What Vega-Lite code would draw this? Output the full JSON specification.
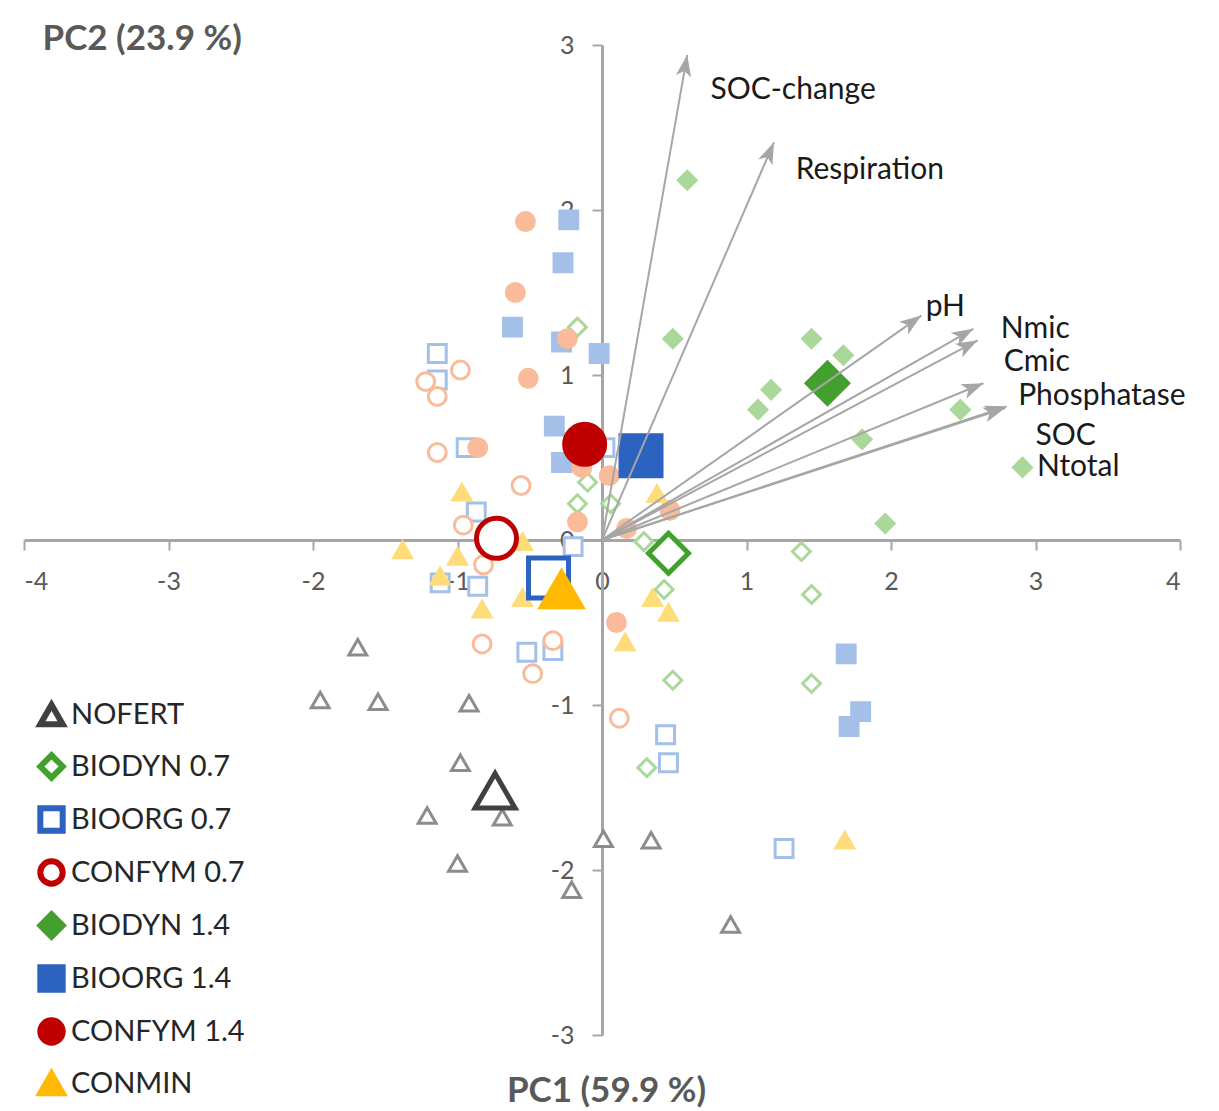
{
  "$schema": "https://vega.github.io/schema/vega-lite/v6.json",
  "width": 1156,
  "height": 990,
  "autosize": {"type": "none"},
  "padding": {"left": 24, "top": 45, "right": 39, "bottom": 76},
  "background": "white",
  "config": {
    "view": {"stroke": null},
    "font": "Lato"
  },
  "datasets": {
    "pts": [
      {"pc1": -1.69, "pc2": -0.65, "group": "NOFERT"},
      {"pc1": -1.95, "pc2": -0.97, "group": "NOFERT"},
      {"pc1": -1.55, "pc2": -0.98, "group": "NOFERT"},
      {"pc1": -0.92, "pc2": -0.99, "group": "NOFERT"},
      {"pc1": -0.98, "pc2": -1.35, "group": "NOFERT"},
      {"pc1": -1.21, "pc2": -1.67, "group": "NOFERT"},
      {"pc1": -0.69, "pc2": -1.68, "group": "NOFERT"},
      {"pc1": -1.00, "pc2": -1.96, "group": "NOFERT"},
      {"pc1": 0.01, "pc2": -1.81, "group": "NOFERT"},
      {"pc1": 0.34, "pc2": -1.82, "group": "NOFERT"},
      {"pc1": -0.21, "pc2": -2.12, "group": "NOFERT"},
      {"pc1": 0.89, "pc2": -2.33, "group": "NOFERT"},
      {"pc1": -0.17, "pc2": 1.29, "group": "BIODYN 0.7"},
      {"pc1": -0.10, "pc2": 0.35, "group": "BIODYN 0.7"},
      {"pc1": -0.17, "pc2": 0.22, "group": "BIODYN 0.7"},
      {"pc1": 0.06, "pc2": 0.22, "group": "BIODYN 0.7"},
      {"pc1": 0.29, "pc2": -0.01, "group": "BIODYN 0.7"},
      {"pc1": 0.43, "pc2": -0.30, "group": "BIODYN 0.7"},
      {"pc1": 1.38, "pc2": -0.07, "group": "BIODYN 0.7"},
      {"pc1": 1.45, "pc2": -0.33, "group": "BIODYN 0.7"},
      {"pc1": 0.49, "pc2": -0.85, "group": "BIODYN 0.7"},
      {"pc1": 1.45, "pc2": -0.87, "group": "BIODYN 0.7"},
      {"pc1": 0.31, "pc2": -1.38, "group": "BIODYN 0.7"},
      {"pc1": -1.14, "pc2": 1.13, "group": "BIOORG 0.7"},
      {"pc1": -1.14, "pc2": 0.97, "group": "BIOORG 0.7"},
      {"pc1": -0.94, "pc2": 0.56, "group": "BIOORG 0.7"},
      {"pc1": 0.02, "pc2": 0.56, "group": "BIOORG 0.7"},
      {"pc1": -0.87, "pc2": 0.17, "group": "BIOORG 0.7"},
      {"pc1": -0.20, "pc2": -0.04, "group": "BIOORG 0.7"},
      {"pc1": -1.12, "pc2": -0.26, "group": "BIOORG 0.7"},
      {"pc1": -0.86, "pc2": -0.28, "group": "BIOORG 0.7"},
      {"pc1": -0.52, "pc2": -0.68, "group": "BIOORG 0.7"},
      {"pc1": -0.34, "pc2": -0.67, "group": "BIOORG 0.7"},
      {"pc1": 0.44, "pc2": -1.18, "group": "BIOORG 0.7"},
      {"pc1": 0.46, "pc2": -1.35, "group": "BIOORG 0.7"},
      {"pc1": 1.26, "pc2": -1.87, "group": "BIOORG 0.7"},
      {"pc1": -0.98, "pc2": 1.03, "group": "CONFYM 0.7"},
      {"pc1": -1.22, "pc2": 0.96, "group": "CONFYM 0.7"},
      {"pc1": -1.14, "pc2": 0.87, "group": "CONFYM 0.7"},
      {"pc1": -1.14, "pc2": 0.53, "group": "CONFYM 0.7"},
      {"pc1": -0.56, "pc2": 0.33, "group": "CONFYM 0.7"},
      {"pc1": -0.96, "pc2": 0.09, "group": "CONFYM 0.7"},
      {"pc1": -0.82, "pc2": -0.15, "group": "CONFYM 0.7"},
      {"pc1": -0.83, "pc2": -0.63, "group": "CONFYM 0.7"},
      {"pc1": -0.34, "pc2": -0.61, "group": "CONFYM 0.7"},
      {"pc1": -0.48, "pc2": -0.81, "group": "CONFYM 0.7"},
      {"pc1": 0.12, "pc2": -1.08, "group": "CONFYM 0.7"},
      {"pc1": 0.59, "pc2": 2.18, "group": "BIODYN 1.4"},
      {"pc1": 0.49, "pc2": 1.22, "group": "BIODYN 1.4"},
      {"pc1": 1.45, "pc2": 1.22, "group": "BIODYN 1.4"},
      {"pc1": 1.67, "pc2": 1.12, "group": "BIODYN 1.4"},
      {"pc1": 1.17, "pc2": 0.91, "group": "BIODYN 1.4"},
      {"pc1": 1.08, "pc2": 0.79, "group": "BIODYN 1.4"},
      {"pc1": 1.80, "pc2": 0.61, "group": "BIODYN 1.4"},
      {"pc1": 2.48, "pc2": 0.79, "group": "BIODYN 1.4"},
      {"pc1": 2.91, "pc2": 0.44, "group": "BIODYN 1.4"},
      {"pc1": 1.96, "pc2": 0.10, "group": "BIODYN 1.4"},
      {"pc1": -0.23, "pc2": 1.94, "group": "BIOORG 1.4"},
      {"pc1": -0.27, "pc2": 1.68, "group": "BIOORG 1.4"},
      {"pc1": -0.62, "pc2": 1.29, "group": "BIOORG 1.4"},
      {"pc1": -0.28, "pc2": 1.20, "group": "BIOORG 1.4"},
      {"pc1": -0.02, "pc2": 1.13, "group": "BIOORG 1.4"},
      {"pc1": -0.33, "pc2": 0.69, "group": "BIOORG 1.4"},
      {"pc1": -0.28, "pc2": 0.47, "group": "BIOORG 1.4"},
      {"pc1": 1.69, "pc2": -0.69, "group": "BIOORG 1.4"},
      {"pc1": 1.79, "pc2": -1.04, "group": "BIOORG 1.4"},
      {"pc1": 1.71, "pc2": -1.13, "group": "BIOORG 1.4"},
      {"pc1": -0.53, "pc2": 1.93, "group": "CONFYM 1.4"},
      {"pc1": -0.60, "pc2": 1.50, "group": "CONFYM 1.4"},
      {"pc1": -0.24, "pc2": 1.22, "group": "CONFYM 1.4"},
      {"pc1": -0.51, "pc2": 0.98, "group": "CONFYM 1.4"},
      {"pc1": -0.86, "pc2": 0.56, "group": "CONFYM 1.4"},
      {"pc1": -0.14, "pc2": 0.44, "group": "CONFYM 1.4"},
      {"pc1": 0.05, "pc2": 0.39, "group": "CONFYM 1.4"},
      {"pc1": -0.17, "pc2": 0.11, "group": "CONFYM 1.4"},
      {"pc1": 0.17, "pc2": 0.07, "group": "CONFYM 1.4"},
      {"pc1": 0.47, "pc2": 0.18, "group": "CONFYM 1.4"},
      {"pc1": 0.10, "pc2": -0.50, "group": "CONFYM 1.4"},
      {"pc1": -0.97, "pc2": 0.29, "group": "CONMIN"},
      {"pc1": -1.38, "pc2": -0.06, "group": "CONMIN"},
      {"pc1": -1.00, "pc2": -0.10, "group": "CONMIN"},
      {"pc1": -1.12, "pc2": -0.22, "group": "CONMIN"},
      {"pc1": -0.83, "pc2": -0.42, "group": "CONMIN"},
      {"pc1": -0.55, "pc2": -0.35, "group": "CONMIN"},
      {"pc1": -0.55, "pc2": -0.01, "group": "CONMIN"},
      {"pc1": 0.38, "pc2": 0.28, "group": "CONMIN"},
      {"pc1": 0.35, "pc2": -0.35, "group": "CONMIN"},
      {"pc1": 0.46, "pc2": -0.44, "group": "CONMIN"},
      {"pc1": 0.16, "pc2": -0.62, "group": "CONMIN"},
      {"pc1": 1.68, "pc2": -1.82, "group": "CONMIN"}
    ],
    "means": [
      {"pc1": -0.74, "pc2": -1.52, "group": "NOFERT"},
      {"pc1": 0.46, "pc2": -0.08, "group": "BIODYN 0.7"},
      {"pc1": -0.37, "pc2": -0.23, "group": "BIOORG 0.7"},
      {"pc1": -0.73, "pc2": 0.01, "group": "CONFYM 0.7"},
      {"pc1": 1.56, "pc2": 0.95, "group": "BIODYN 1.4"},
      {"pc1": 0.27, "pc2": 0.51, "group": "BIOORG 1.4"},
      {"pc1": -0.12, "pc2": 0.58, "group": "CONFYM 1.4"},
      {"pc1": -0.28, "pc2": -0.30, "group": "CONMIN"}
    ],
    "loadings": [
      {"var": "SOC-change", "pc1": 0.59, "pc2": 2.94, "lx": 0.75, "ly": 2.73},
      {"var": "Respiration", "pc1": 1.19, "pc2": 2.41, "lx": 1.34, "ly": 2.24},
      {"var": "pH", "pc1": 2.21, "pc2": 1.36, "lx": 2.24, "ly": 1.41},
      {"var": "Nmic", "pc1": 2.57, "pc2": 1.28, "lx": 2.76, "ly": 1.28},
      {"var": "Cmic", "pc1": 2.60, "pc2": 1.21, "lx": 2.78, "ly": 1.08},
      {"var": "Phosphatase", "pc1": 2.64, "pc2": 0.95, "lx": 2.88, "ly": 0.87},
      {"var": "SOC", "pc1": 2.80, "pc2": 0.81, "lx": 3.00, "ly": 0.63},
      {"var": "Ntotal", "pc1": 2.79, "pc2": 0.80, "lx": 3.01, "ly": 0.44}
    ]
  },
  "layer": [
    {
      "data": {"name": "pts"},
      "transform": [{"calculate": "datum.group + ' obs'", "as": "key"}],
      "mark": {"type": "point", "filled": false, "size": 320, "strokeWidth": 3, "opacity": 1},
      "encoding": {
        "x": {
          "field": "pc1",
          "type": "quantitative",
          "scale": {"domain": [-4, 4], "nice": false, "zero": false},
          "axis": {
            "orient": "bottom",
            "offset": -495,
            "values": [-4, -3, -2, -1, 0, 1, 2, 3, 4],
            "labelExpr": "datum.value + ''",
            "grid": false,
            "domainColor": "#a6a6a6",
            "domainWidth": 3,
            "tickColor": "#a6a6a6",
            "tickWidth": 2,
            "tickSize": 10,
            "labelFont": "Lato",
            "labelFontSize": 25,
            "labelColor": "#595959",
            "labelPadding": 19,
            "title": "PC1 (59.9 %)",
            "titleFont": "Lato",
            "titleFontSize": 35,
            "titleFontWeight": "bold",
            "titleColor": "#595959",
            "titleBaseline": "middle",
            "titleY": 550,
            "titleX": 582
          }
        },
        "y": {
          "field": "pc2",
          "type": "quantitative",
          "scale": {"domain": [-3, 3], "nice": false, "zero": false},
          "axis": {
            "orient": "left",
            "offset": -578,
            "values": [-3, -2, -1, 0, 1, 2, 3],
            "labelExpr": "datum.value + ''",
            "grid": false,
            "domainColor": "#a6a6a6",
            "domainWidth": 3,
            "tickColor": "#a6a6a6",
            "tickWidth": 2,
            "tickSize": 10,
            "labelFont": "Lato",
            "labelFontSize": 25,
            "labelColor": "#595959",
            "labelPadding": 18,
            "title": "PC2 (23.9 %)",
            "titleFont": "Lato",
            "titleFontSize": 35,
            "titleFontWeight": "bold",
            "titleColor": "#595959",
            "titleAngle": 0,
            "titleAlign": "left",
            "titleBaseline": "middle",
            "titleX": -560,
            "titleY": -7
          }
        },
        "shape": {"field": "key", "type": "nominal"},
        "fill": {"field": "key", "type": "nominal"},
        "stroke": {"field": "key", "type": "nominal"}
      }
    },
    {
      "data": {"name": "means"},
      "transform": [{"calculate": "datum.group", "as": "key"}],
      "mark": {"type": "point", "filled": false, "size": 1600, "strokeWidth": 5, "opacity": 1},
      "encoding": {
        "x": {"field": "pc1", "type": "quantitative"},
        "y": {"field": "pc2", "type": "quantitative"},
        "shape": {
          "field": "key", "type": "nominal",
          "scale": {
            "domain": ["NOFERT", "BIODYN 0.7", "BIOORG 0.7", "CONFYM 0.7", "BIODYN 1.4", "BIOORG 1.4", "CONFYM 1.4", "CONMIN",
                       "NOFERT obs", "BIODYN 0.7 obs", "BIOORG 0.7 obs", "CONFYM 0.7 obs", "BIODYN 1.4 obs", "BIOORG 1.4 obs", "CONFYM 1.4 obs", "CONMIN obs"],
            "range": ["triangle-up", "diamond", "square", "circle", "diamond", "square", "circle", "triangle-up",
                      "triangle-up", "diamond", "square", "circle", "diamond", "square", "circle", "triangle-up"]
          },
          "legend": {
            "title": null,
            "values": ["NOFERT", "BIODYN 0.7", "BIOORG 0.7", "CONFYM 0.7", "BIODYN 1.4", "BIOORG 1.4", "CONFYM 1.4", "CONMIN"],
            "orient": "none",
            "legendX": 13,
            "legendY": 655,
            "padding": 0,
            "symbolSize": 500,
            "symbolStrokeWidth": 6,
            "labelFont": "Lato",
            "labelFontSize": 29,
            "labelColor": "#262626",
            "labelLimit": 400,
            "labelOffset": 5,
            "rowPadding": 6
          }
        },
        "fill": {
          "field": "key", "type": "nominal",
          "scale": {
            "domain": ["NOFERT", "BIODYN 0.7", "BIOORG 0.7", "CONFYM 0.7", "BIODYN 1.4", "BIOORG 1.4", "CONFYM 1.4", "CONMIN",
                       "NOFERT obs", "BIODYN 0.7 obs", "BIOORG 0.7 obs", "CONFYM 0.7 obs", "BIODYN 1.4 obs", "BIOORG 1.4 obs", "CONFYM 1.4 obs", "CONMIN obs"],
            "range": ["white", "white", "white", "white", "#43a02f", "#2c62c0", "#c00000", "#ffb900",
                      "white", "white", "white", "white", "#a9d89a", "#a4bfe8", "#f9bb9a", "#ffdc7a"]
          },
          "legend": {
            "title": null,
            "values": ["NOFERT", "BIODYN 0.7", "BIOORG 0.7", "CONFYM 0.7", "BIODYN 1.4", "BIOORG 1.4", "CONFYM 1.4", "CONMIN"],
            "orient": "none",
            "legendX": 13,
            "legendY": 655,
            "padding": 0,
            "symbolSize": 500,
            "symbolStrokeWidth": 6,
            "labelFont": "Lato",
            "labelFontSize": 29,
            "labelColor": "#262626",
            "labelLimit": 400,
            "labelOffset": 5,
            "rowPadding": 6
          }
        },
        "stroke": {
          "field": "key", "type": "nominal",
          "scale": {
            "domain": ["NOFERT", "BIODYN 0.7", "BIOORG 0.7", "CONFYM 0.7", "BIODYN 1.4", "BIOORG 1.4", "CONFYM 1.4", "CONMIN",
                       "NOFERT obs", "BIODYN 0.7 obs", "BIOORG 0.7 obs", "CONFYM 0.7 obs", "BIODYN 1.4 obs", "BIOORG 1.4 obs", "CONFYM 1.4 obs", "CONMIN obs"],
            "range": ["#404040", "#43a02f", "#2c62c0", "#c00000", "#43a02f", "#2c62c0", "#c00000", "#ffb900",
                      "#8c8c8c", "#a9d89a", "#a4bfe8", "#f9bb9a", "#a9d89a", "#a4bfe8", "#f9bb9a", "#ffdc7a"]
          },
          "legend": {
            "title": null,
            "values": ["NOFERT", "BIODYN 0.7", "BIOORG 0.7", "CONFYM 0.7", "BIODYN 1.4", "BIOORG 1.4", "CONFYM 1.4", "CONMIN"],
            "orient": "none",
            "legendX": 13,
            "legendY": 655,
            "padding": 0,
            "symbolSize": 500,
            "symbolStrokeWidth": 6,
            "labelFont": "Lato",
            "labelFontSize": 29,
            "labelColor": "#262626",
            "labelLimit": 400,
            "labelOffset": 5,
            "rowPadding": 6
          }
        }
      }
    },
    {
      "data": {"name": "loadings"},
      "mark": {"type": "rule", "color": "#a6a6a6", "strokeWidth": 2},
      "encoding": {
        "x": {"field": "pc1", "type": "quantitative"},
        "y": {"field": "pc2", "type": "quantitative"},
        "x2": {"datum": 0},
        "y2": {"datum": 0}
      }
    },
    {
      "data": {"name": "loadings"},
      "transform": [
        {"calculate": "(atan2(datum.pc1 * 144.5, datum.pc2 * 165) * 180 / PI + 360) % 360", "as": "ang"}
      ],
      "mark": {
        "type": "point",
        "shape": "M0,0L-0.5,1.4L0,1.05L0.5,1.4Z",
        "filled": true,
        "fill": "#a6a6a6",
        "strokeWidth": 0,
        "size": 960,
        "opacity": 1
      },
      "encoding": {
        "x": {"field": "pc1", "type": "quantitative"},
        "y": {"field": "pc2", "type": "quantitative"},
        "angle": {"field": "ang", "type": "quantitative", "scale": {"domain": [0, 360], "range": [0, 360], "zero": false, "nice": false}, "legend": null}
      }
    },
    {
      "data": {"name": "loadings"},
      "mark": {
        "type": "text",
        "align": "left",
        "baseline": "middle",
        "font": "Lato",
        "fontSize": 30,
        "color": "#1a1a1a"
      },
      "encoding": {
        "x": {"field": "lx", "type": "quantitative"},
        "y": {"field": "ly", "type": "quantitative"},
        "text": {"field": "var"}
      }
    }
  ]
}
